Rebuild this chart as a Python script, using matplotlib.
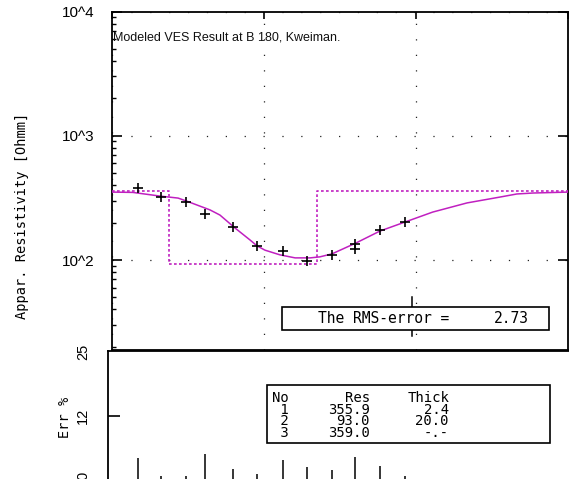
import numpy as np
import matplotlib
matplotlib.use("Agg")
import matplotlib.pyplot as plt
from matplotlib.patches import Rectangle
from matplotlib.lines import Line2D
from matplotlib.ticker import FixedLocator, FixedFormatter, NullLocator, LogLocator, NullFormatter

# Field sounding: half electrode spacing AB/2 [m] and apparent resistivity [Ohm m]
ab2_obs = [1.5, 2.1, 3.1, 4.1, 6.3, 9.0, 13.4, 19.3, 28.0, 40.0, 40.0, 58.0, 85.0]
rho_obs = [380, 321, 293, 235, 184, 130, 118, 98, 110, 135, 123, 174, 202]

# Computed response of the layered model
ab2_model = [1.0, 1.38, 2.08, 2.74, 3.09, 4.44, 5.16, 6.48, 8.13, 9.04, 10.2, 12.8,
             16.1, 20.2, 23.4, 28.1, 40.4, 58.1, 84.8, 129, 217, 357, 462, 589, 1000]
rho_model = [352, 350, 327, 315, 299, 253, 230, 181, 145, 130, 120, 110,
             104, 104, 106, 112, 137, 171, 202, 243, 288, 321, 340, 346, 352]

# Layered earth model
layer_no = [1, 2, 3]
layer_res = [355.9, 93.0, 359.0]
layer_thick = [2.4, 20.0]

# Relative misfit per spacing [%]
ab2_err = [1.5, 2.1, 3.1, 4.1, 6.3, 9.0, 13.4, 19.3, 28.0, 40.0, 58.0, 85.0]
err_pct = [3.5, 0.0, 0.0, 4.3, 1.3, 0.3, 3.1, 1.7, 1.1, 3.7, 1.9, 0.0]

rms_error = 2.73
title = "Modeled VES Result at B 180, Kweiman."
rho_ticks = [1e2, 1e3, 1e4]
rho_tick_labels = ["10^2", "10^3", "10^4"]
err_ticks = [0, 12, 25]
err_tick_labels = ["0", "12", "25"]

MAG = "#c020c0"
MONO = "DejaVu Sans Mono"
SANS = "Liberation Sans"

W, H = 569, 479
fig = plt.figure(figsize=(W / 100, H / 100), dpi=100)
fig.patch.set_facecolor("white")


def box(l, t, r, b):
    return [l / W, 1 - b / H, (r - l) / W, (b - t) / H]


def fx(px):
    return px / W


def fy(py):
    return 1 - py / H


# ---------------- resistivity panel ----------------
x0, x1 = 111.5, 568.0
dec_px = (x1 - x0) / 3.0
ax = fig.add_axes(box(x0, 11.5, x1, 350))
ax.set_xscale("log")
ax.set_yscale("log")
ax.set_xlim(1, 1000)
ax.set_ylim(10 ** (2 - 90 / 124.25), 1e4)

# dotted grid
ax.xaxis.set_major_locator(FixedLocator([1, 10, 100, 1000]))
ax.xaxis.set_minor_locator(NullLocator())
ax.xaxis.set_major_formatter(NullFormatter())
ax.yaxis.set_major_locator(FixedLocator(rho_ticks))
ax.yaxis.set_major_formatter(FixedFormatter(rho_tick_labels))
ax.yaxis.set_minor_locator(LogLocator(base=10, subs=np.arange(2, 10)))
ax.yaxis.set_minor_formatter(NullFormatter())
ax.xaxis.grid(True, which="major", color="#222222", lw=0.9, ls=(0, (1, 11.4)))
ax.yaxis.grid(True, which="major", color="#222222", lw=0.9, ls=(0, (1, 14.1)))
ax.set_axisbelow(True)

ax.tick_params(axis="x", which="major", direction="in", top=True, bottom=False,
               length=5.2, width=1.2, labelbottom=False)
ax.tick_params(axis="y", which="major", direction="in", left=True, right=True,
               length=7.2, width=1.2, pad=12, labelsize=11)
ax.tick_params(axis="y", which="minor", direction="in", left=True, right=False,
               length=3.0, width=1.0)
for lab in ax.get_yticklabels():
    lab.set_family(SANS)
for sp in ax.spines.values():
    sp.set_linewidth(1.3)

# model step, response curve, observations
depths = np.cumsum(layer_thick)
xs = [1.0, *depths, 1000.0]
ys = [*layer_res, layer_res[-1]]
ax.step(xs, ys, where="post", color=MAG, lw=1.2, ls=(0, (1.6, 1.4)), zorder=3)
ax.plot(ab2_model, rho_model, color=MAG, lw=1.1, zorder=4)
ax.plot(ab2_obs, rho_obs, "+", color="black", ms=7, mew=1.2, zorder=5)

fig.text(fx(113), fy(38), title, ha="left", va="center", fontsize=9, family=SANS,
         color="#111111")
fig.text(fx(22), fy(216), "Appar. Resistivity [Ohmm]", rotation=90, ha="center",
         va="center", fontsize=9.8, family=MONO)

# ---------------- misfit panel ----------------
ax2 = fig.add_axes(box(108, 351.5, 575, 485.5))
ax2.set_xscale("log")
ax2.set_xlim(10 ** ((108 - x0) / dec_px), 10 ** ((575 - x0) / dec_px))
ax2.set_ylim(-2, 25)
ax2.vlines(ab2_err, -2, err_pct, color="black", lw=1.1)
ax2.xaxis.set_major_locator(NullLocator())
ax2.xaxis.set_minor_locator(NullLocator())
ax2.yaxis.set_major_locator(FixedLocator(err_ticks))
ax2.yaxis.set_major_formatter(FixedFormatter(err_tick_labels))
ax2.tick_params(axis="y", which="major", direction="in", length=8.6, width=1.2,
                pad=13, labelsize=10.5, labelrotation=90)
for lab in ax2.get_yticklabels():
    lab.set_family(SANS)
    lab.set_verticalalignment("center")
ticks2 = ax2.yaxis.get_major_ticks()
ticks2[0].tick1line.set_visible(False)
ticks2[2].tick1line.set_visible(False)
for side in ("right", "bottom"):
    ax2.spines[side].set_visible(False)
for side in ("left", "top"):
    ax2.spines[side].set_linewidth(1.3)

fig.text(fx(65), fy(417), "Err %", rotation=90, ha="center", va="center",
         fontsize=9.8, family=MONO)

# ---------------- annotation boxes ----------------
fig.add_artist(Line2D([fx(412), fx(412)], [fy(297), fy(336)], color="black",
                      lw=1.1, transform=fig.transFigure, zorder=0.5))

fig.add_artist(Rectangle((fx(282), fy(330)), fx(549) - fx(282), fy(307) - fy(330),
                         transform=fig.transFigure, facecolor="white",
                         edgecolor="black", lw=1.2, zorder=1))
fig.text(fx(318), fy(318.5), "The RMS-error =", ha="left", va="center",
         fontsize=10.5, family=MONO, zorder=3)
fig.text(fx(529), fy(318.5), f"{rms_error:.2f}", ha="right", va="center",
         fontsize=10.5, family=MONO, zorder=3)

# layer table: one text block per column
fig.add_artist(Rectangle((fx(267), fy(443)), fx(550) - fx(267), fy(385) - fy(443),
                         transform=fig.transFigure, facecolor="white",
                         edgecolor="black", lw=1.2, zorder=1))
tfs = 10
tls = 0.8
block_y = fy(415.5)
col_no = "\n".join(["No"] + [f"{n:>2d}" for n in layer_no])
col_res = "\n".join(["Res"] + [f"{r:.1f}" for r in layer_res])
col_thick = "\n".join(["Thick"] + [f"{t:.1f}" for t in layer_thick] + ["-.-"])
fig.text(fx(272), block_y, col_no, ha="left", va="center", ma="left",
         fontsize=tfs, family=MONO, linespacing=tls)
fig.text(fx(370), block_y, col_res, ha="right", va="center", ma="right",
         fontsize=tfs, family=MONO, linespacing=tls)
fig.text(fx(449), block_y, col_thick, ha="right", va="center", ma="right",
         fontsize=tfs, family=MONO, linespacing=tls)

fig.savefig("out.png", dpi=100, facecolor="white")
